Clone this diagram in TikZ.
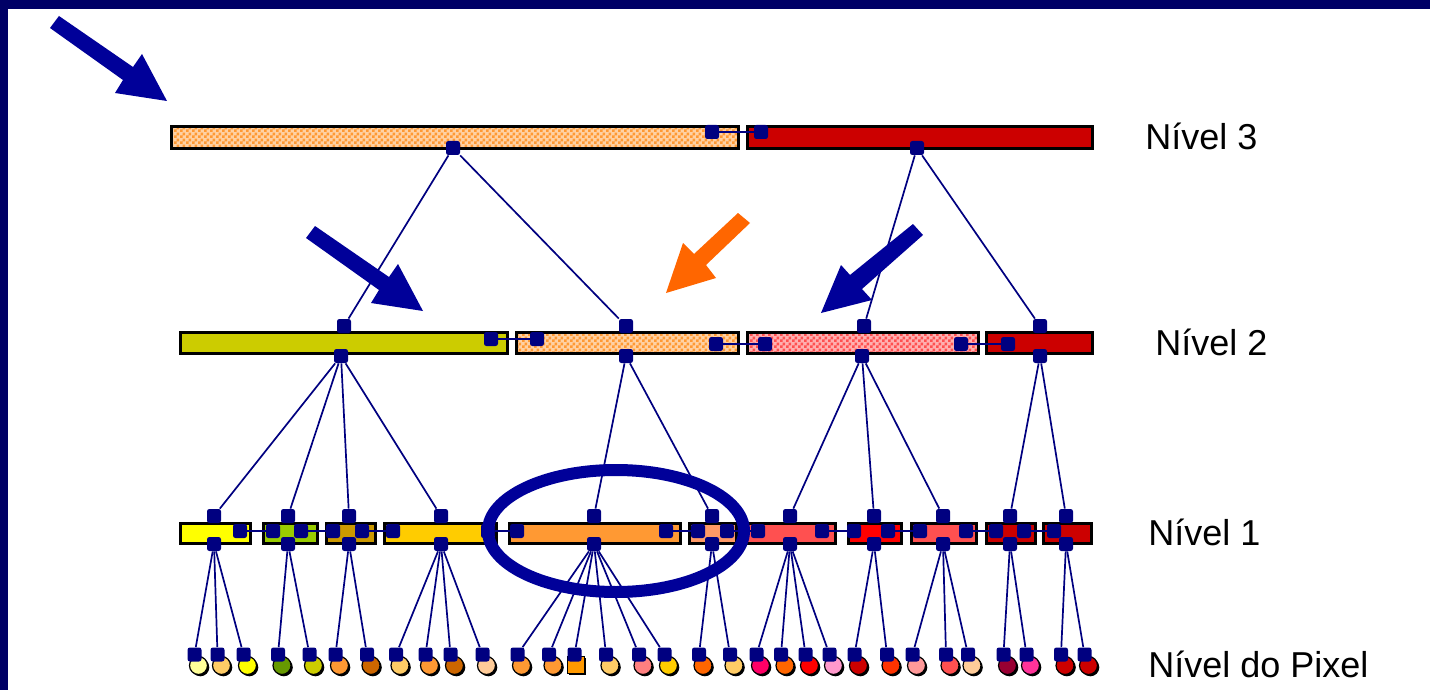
\documentclass[tikz,border=0pt]{standalone}
\usepackage{fontspec}
\setmainfont{Liberation Sans}
\usetikzlibrary{patterns,fit,shadows}

% palette
\definecolor{navy}{HTML}{000080}
\definecolor{framenavy}{HTML}{000066}
\definecolor{arrowblue}{HTML}{000099}
\definecolor{arroworange}{HTML}{FF6600}
\definecolor{lemon}{HTML}{FFFF99}
\definecolor{sand}{HTML}{FFCC66}
\definecolor{yel}{HTML}{FFFF00}
\definecolor{grn}{HTML}{669900}
\definecolor{lime}{HTML}{99CC00}
\definecolor{olv}{HTML}{CCCC00}
\definecolor{ochre}{HTML}{CC9900}
\definecolor{org}{HTML}{FF9933}
\definecolor{brn}{HTML}{CC6600}
\definecolor{peach}{HTML}{FFCC99}
\definecolor{amber}{HTML}{FF9900}
\definecolor{rose}{HTML}{FF8080}
\definecolor{gold}{HTML}{FFCC00}
\definecolor{tang}{HTML}{FF6600}
\definecolor{mag}{HTML}{FF0066}
\definecolor{red1}{HTML}{FF0000}
\definecolor{pinkl}{HTML}{FF99CC}
\definecolor{dred}{HTML}{CC0000}
\definecolor{scar}{HTML}{FF3300}
\definecolor{salm}{HTML}{FF9999}
\definecolor{coral}{HTML}{FF5050}
\definecolor{apricot}{HTML}{FF9966}
\definecolor{wine}{HTML}{990033}
\definecolor{hotp}{HTML}{FF3399}

% fine checkerboard used for the dithered regions
\pgfdeclarepatternformonly{chk}{\pgfpointorigin}{\pgfpoint{3pt}{3pt}}{\pgfpoint{3pt}{3pt}}{%
  \pgfpathrectangle{\pgfpointorigin}{\pgfpoint{1.5pt}{1.5pt}}%
  \pgfpathrectangle{\pgfpoint{1.5pt}{1.5pt}}{\pgfpoint{1.5pt}{1.5pt}}%
  \pgfusepath{fill}%
}

\tikzset{
  region/.style={rectangle, draw=black, line width=1.5pt, inner sep=0pt},
  dithered/.style={region, preaction={fill=#1!45}, pattern=chk, pattern color=#1},
  knot/.style={rectangle, rounded corners=1.2pt, fill=navy, minimum size=7pt, inner sep=0pt},
  edge/.style={draw=navy, line width=0.85pt},
  chain/.style={draw=navy, line width=1.2pt},
  pixdot/.style={circle, draw=black, line width=0.6pt, minimum size=9pt, inner sep=0pt,
    drop shadow={shadow xshift=0.9pt, shadow yshift=-0.9pt, fill=black, opacity=1}},
  pixsq/.style={rectangle, draw=black, line width=0.6pt, minimum size=8.5pt, inner sep=0pt,
    drop shadow={shadow xshift=0.9pt, shadow yshift=-0.9pt, fill=black, opacity=1}},
  lbl/.style={inner sep=0pt, anchor=base west, font=\fontsize{18}{20}\selectfont},
}

\begin{document}
\begin{tikzpicture}[x=0.5pt, y=-0.5pt]
\useasboundingbox (0,0) rectangle (1430,690);
\fill[white] (0,0) rectangle (1430,690);

% slide frame
\fill[framenavy] (0,0) rectangle (1430,9);
\fill[framenavy] (0,0) rectangle (8,690);

% ---------------- level 3 ----------------
\node[dithered=org, fit={(171.5,126.5) (738,148.5)}] (r3a) {};
\node[region, fill=dred, fit={(747.5,126.5) (1092.5,148.5)}] (r3b) {};

% ---------------- level 2 ----------------
\node[region, fill=olv, fit={(180.5,332.5) (507.5,353.5)}] (r2a) {};
\node[dithered=org, fit={(516.5,332.5) (738.5,353.5)}] (r2b) {};
\node[dithered=coral, fit={(747.5,332.5) (978.5,353.5)}] (r2c) {};
\node[region, fill=dred, fit={(986.5,332.5) (1092.5,353.5)}] (r2d) {};

% ---------------- level 1 ----------------
\node[region, fill=yel,     fit={(180.5,523.5) (250.5,543.5)}] (r1a) {};
\node[region, fill=lime,    fit={(263.5,523.5) (317.5,543.5)}] (r1b) {};
\node[region, fill=ochre,   fit={(326.5,523.5) (375.5,543.5)}] (r1c) {};
\node[region, fill=gold,    fit={(384.5,523.5) (496,543.5)}] (r1d) {};
\node[region, fill=org,     fit={(509.5,523.5) (680.5,543.5)}] (r1e) {};
\node[region, fill=apricot, fit={(689.5,523.5) (736.5,543.5)}] (r1f) {};
\node[region, fill=coral,   fit={(745.5,523.5) (835.5,543.5)}] (r1g) {};
\node[region, fill=red1,    fit={(848.5,523.5) (901.5,543.5)}] (r1h) {};
\node[region, fill=coral,   fit={(911.5,523.5) (976.5,543.5)}] (r1i) {};
\node[region, fill=dred,    fit={(986.5,523.5) (1035.5,543.5)}] (r1j) {};
\node[region, fill=dred,    fit={(1043.5,523.5) (1091.5,543.5)}] (r1k) {};

% ---------------- tree knots ----------------
\node[knot] (d3a) at (453,148) {};
\node[knot] (d3b) at (917,148) {};

\node[knot] (u2a) at (344,326) {};
\node[knot] (u2b) at (626,326) {};
\node[knot] (u2c) at (864,326) {};
\node[knot] (u2d) at (1040,326) {};
\node[knot] (d2a) at (341,356) {};
\node[knot] (d2b) at (626,356) {};
\node[knot] (d2c) at (862,356) {};
\node[knot] (d2d) at (1040,356) {};

\foreach \n/\x in {a/214,b/288,c/349,d/441,e/594,f/712,g/790,h/874,i/943,j/1010,k/1066}{
  \node[knot] (u1\n) at (\x,516) {};
  \node[knot] (d1\n) at (\x,544) {};
}

% ---------------- adjacency chains ----------------
\node[knot] (k3a) at (712,132) {};
\node[knot] (k3b) at (761,132) {};
\draw[chain] (k3a) -- (k3b);

\node[knot] (k2a) at (491,339) {};
\node[knot] (k2b) at (537,339) {};
\node[knot] (k2c) at (716,344) {};
\node[knot] (k2d) at (765,344) {};
\node[knot] (k2e) at (961,344) {};
\node[knot] (k2f) at (1008,344) {};
\draw[chain] (k2a) -- (k2b);
\draw[chain] (k2c) -- (k2d);
\draw[chain] (k2e) -- (k2f);

\foreach \i/\xa/\xb in {1/240/273, 2/301/333, 3/362/393, 4/488/517, 5/666/698,
                        6/727/758, 7/822/854, 8/888/920, 9/966/996, 10/1024/1054}{
  \node[knot] (ka\i) at (\xa,531) {};
  \node[knot] (kb\i) at (\xb,531) {};
  \draw[chain] (ka\i) -- (kb\i);
}

% ---------------- tree edges ----------------
\draw[edge] (d3a) -- (u2a);
\draw[edge] (d3a) -- (u2b);
\draw[edge] (d3b) -- (u2c);
\draw[edge] (d3b) -- (u2d);

\foreach \p/\c in {a/a, a/b, a/c, a/d, b/e, b/f, c/g, c/h, c/i, d/j, d/k}{
  \draw[edge] (d2\p) -- (u1\c);
}

% ---------------- pixel level ----------------
\foreach \i/\x/\c/\p in {
   1/194.5/lemon/a,  2/217.5/sand/a,   3/243.5/yel/a,
   4/278/grn/b,      5/309.5/olv/b,
   6/335.5/org/c,    7/367/brn/c,
   8/396/sand/d,     9/425.5/org/d,   10/450.5/brn/d,  11/482.5/peach/d,
  12/517.5/org/e,   13/549/org/e,     15/606/sand/e,   16/639/rose/e,  17/664.5/gold/e,
  18/699/tang/f,    19/730/sand/f,
  20/756.5/mag/g,   21/781/tang/g,    22/805.5/red1/g, 23/829.5/pinkl/g,
  24/854.5/dred/h,  25/887/scar/h,
  26/912.5/salm/i,  27/946/coral/i,   28/968/peach/i,
  29/1003.5/wine/j, 30/1026.5/hotp/j,
  31/1061/dred/k,   32/1084.5/dred/k}{
  \node[pixdot, fill=\c] (c\i) at (\x+4,665.5) {};
  \node[knot] (q\i) at (\x,654.5) {};
  \draw[edge] (d1\p) -- (q\i);
}
% the one square pixel
\node[pixsq, fill=amber] (c14) at (576,665) {};
\node[knot] (q14) at (574.5,654.5) {};
\draw[edge] (d1e) -- (q14);

% ---------------- highlight ring ----------------
\draw[arrowblue, line width=6pt] (616,531) ellipse [x radius=64pt, y radius=30.5pt];

% ---------------- pointer arrows ----------------
\fill[arrowblue] (59,16) -- (133,67) -- (142,54) -- (167,101) -- (115,93) -- (123,80) -- (50,28) -- cycle;
\fill[arrowblue] (315,226) -- (389,277) -- (398,264) -- (423,311) -- (371,303) -- (379,290) -- (306,238) -- cycle;
\fill[arrowblue] (913,224) -- (850,275) -- (841,265) -- (821,313) -- (872,300) -- (862,289) -- (923,235) -- cycle;
\fill[arroworange] (738,213) -- (694,254) -- (683,243) -- (666,293) -- (716,278) -- (706,265) -- (750,223) -- cycle;

% ---------------- level labels ----------------
\node[lbl] (t3) at (1145,149) {Nível 3};
\node[lbl] (t2) at (1155,355) {Nível 2};
\node[lbl] (t1) at (1148,545) {Nível 1};
\node[lbl] (t0) at (1148,677) {Nível do Pixel};
\end{tikzpicture}
\end{document}
